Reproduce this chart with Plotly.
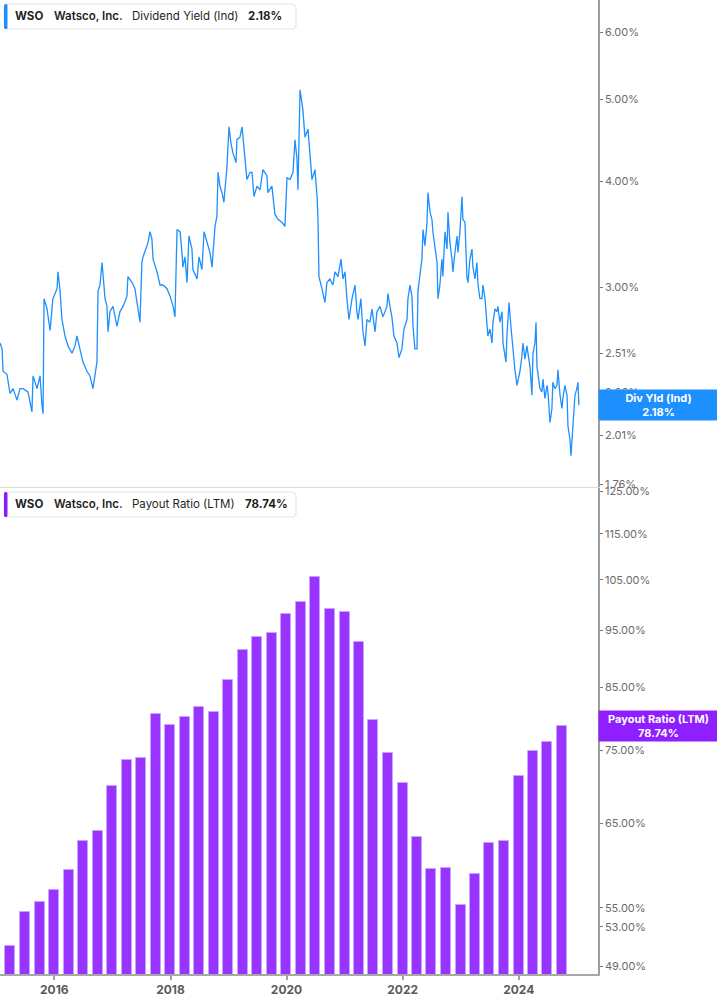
import plotly.graph_objects as go
import pandas as pd
import math

# ---------------- data ----------------
company = "Watsco, Inc."
ticker = "WSO"

# Dividend yield (indicated), %: observation day (days since 2015-01-24) and value
yield_origin = "2015-01-24"
yield_days = [
    0, 13, 19, 44, 63, 82, 107, 126, 145, 176, 201, 208, 233, 252, 264, 271, 277, 296, 315, 333,
    359, 365, 378, 390, 409, 428, 453, 472, 484, 503, 522, 547, 566, 585, 610, 617, 629, 642, 648, 661,
    673, 680, 692, 711, 736, 755, 774, 799, 805, 831, 849, 862, 881, 893, 900, 925, 931, 944, 956, 963,
    988, 1007, 1026, 1051, 1070, 1089, 1101, 1114, 1133, 1145, 1151, 1164, 1177, 1189, 1208, 1214, 1240, 1252, 1271, 1284,
    1302, 1321, 1334, 1340, 1353, 1365, 1372, 1384, 1397, 1409, 1428, 1441, 1453, 1466, 1485, 1491, 1510, 1523, 1542, 1554,
    1573, 1586, 1598, 1617, 1636, 1655, 1680, 1686, 1711, 1718, 1730, 1749, 1774, 1793, 1806, 1825, 1844, 1856, 1869, 1875,
    1881, 1888, 1906, 1919, 1938, 1951, 1963, 1982, 1995, 2001, 2007, 2026, 2045, 2057, 2076, 2095, 2108, 2127, 2146, 2158,
    2171, 2183, 2196, 2215, 2234, 2246, 2253, 2271, 2284, 2297, 2309, 2328, 2341, 2360, 2372, 2391, 2410, 2435, 2441, 2454,
    2466, 2479, 2498, 2511, 2529, 2542, 2561, 2567, 2580, 2592, 2599, 2611, 2624, 2630, 2643, 2655, 2662, 2674, 2687, 2693,
    2706, 2718, 2724, 2737, 2750, 2756, 2768, 2781, 2787, 2800, 2813, 2819, 2831, 2844, 2850, 2863, 2876, 2882, 2894, 2907,
    2913, 2926, 2938, 2945, 2957, 2970, 2976, 2989, 3001, 3008, 3020, 3033, 3039, 3052, 3064, 3070, 3083, 3096, 3102, 3115,
    3127, 3133, 3146, 3159, 3165, 3184, 3190, 3203, 3215, 3228, 3240, 3253, 3272, 3284, 3291, 3303, 3316, 3322, 3335, 3347,
    3354, 3366, 3373, 3379, 3391, 3398, 3410, 3417, 3429, 3442, 3448, 3461, 3473, 3479, 3492, 3505, 3511, 3524, 3536, 3542,
    3555, 3568, 3574, 3586, 3593, 3605, 3612, 3618, 3630, 3637, 3643,
]
div_yield = [
    2.58, 2.54, 2.39, 2.37, 2.25, 2.28, 2.21, 2.28, 2.28, 2.26, 2.14, 2.36, 2.28, 2.36, 2.18, 2.13, 2.91, 2.83, 2.67, 2.91,
    2.99, 3.13, 2.97, 2.75, 2.63, 2.56, 2.51, 2.56, 2.63, 2.54, 2.45, 2.39, 2.36, 2.28, 2.45, 2.97, 3.02, 3.21, 3.09, 2.91,
    2.85, 2.66, 2.81, 2.85, 2.70, 2.81, 2.85, 2.93, 3.09, 3.04, 2.99, 2.88, 2.73, 3.21, 3.26, 3.36, 3.39, 3.49, 3.42, 3.24,
    3.13, 3.02, 3.02, 2.99, 2.93, 2.85, 2.77, 3.51, 3.49, 3.30, 3.17, 3.26, 3.04, 3.45, 3.33, 3.15, 3.07, 3.26, 3.15, 3.49,
    3.39, 3.30, 3.17, 3.30, 3.54, 3.64, 4.10, 3.95, 3.88, 3.78, 4.16, 4.64, 4.44, 4.32, 4.21, 4.48, 4.51, 4.64, 4.28, 4.02,
    4.10, 4.10, 3.84, 3.95, 3.91, 4.13, 4.06, 3.88, 3.95, 3.81, 3.66, 3.61, 3.58, 3.54, 4.04, 4.02, 4.10, 4.48, 4.25, 3.91,
    4.64, 5.13, 4.86, 4.51, 4.61, 4.28, 4.02, 4.13, 3.84, 3.61, 3.09, 2.99, 2.88, 3.04, 3.07, 3.02, 3.13, 3.09, 3.24, 3.07,
    3.13, 2.91, 2.75, 2.91, 3.02, 2.81, 2.75, 2.91, 2.66, 2.56, 2.75, 2.73, 2.83, 2.66, 2.81, 2.85, 2.77, 2.85, 2.95, 2.85,
    2.77, 2.63, 2.58, 2.48, 2.54, 2.68, 2.75, 2.91, 3.02, 2.93, 2.70, 2.54, 2.54, 2.97, 3.09, 3.24, 3.51, 3.36, 3.58, 3.88,
    3.68, 3.61, 3.49, 3.36, 3.21, 2.91, 3.02, 3.24, 3.09, 3.49, 3.33, 3.68, 3.39, 3.24, 3.13, 3.30, 3.45, 3.30, 3.49, 3.84,
    3.61, 3.58, 3.09, 3.04, 3.24, 3.33, 3.17, 3.07, 3.21, 3.02, 2.91, 2.91, 3.02, 2.91, 2.70, 2.63, 2.68, 2.58, 2.73, 2.83,
    2.81, 2.85, 2.73, 2.81, 2.58, 2.45, 2.63, 2.88, 2.70, 2.51, 2.40, 2.30, 2.39, 2.49, 2.58, 2.47, 2.56, 2.51, 2.42, 2.24,
    2.51, 2.58, 2.73, 2.42, 2.32, 2.28, 2.26, 2.34, 2.22, 2.30, 2.26, 2.08, 2.16, 2.32, 2.28, 2.30, 2.40, 2.24, 2.16, 2.22,
    2.30, 2.24, 2.06, 1.99, 1.90, 2.04, 2.12, 2.24, 2.28, 2.32, 2.18,
]
yield_dates = pd.Timestamp(yield_origin) + pd.to_timedelta(yield_days, unit="D")

# Payout ratio (LTM), %, quarterly (quarter ends 2015Q1 .. 2024Q3)
payout_quarters = pd.date_range("2015-03-31", "2024-09-30", freq="QE")
payout_ratio = [
    51.0, 54.6, 55.7, 57.0, 59.3, 62.7, 64.0, 69.9, 73.6, 73.9,
    80.6, 78.8, 80.2, 81.8, 81.0, 86.2, 91.4, 93.8, 94.6, 98.2,
    100.6, 105.5, 99.1, 98.6, 92.9, 79.7, 74.6, 70.4, 63.3, 59.4,
    59.5, 55.3, 58.8, 62.5, 62.8, 71.4, 75.0, 76.3, 78.74,
]

yield_ticks = [1.76, 2.01, 2.26, 2.51, 3.00, 4.00, 5.00, 6.00]
payout_ticks = [49, 53, 55, 65, 75, 85, 95, 105, 115, 125]
year_ticks = [2016, 2018, 2020, 2022, 2024]

last_yield = div_yield[-1]
last_payout = payout_ratio[-1]

# ---------------- styling ----------------
W, H = 717, 1005
PLOT_W, PLOT_H = 598, 974
BLUE = "#1E8FFF"
PURPLE = "#9933FF"
PURPLE_BOX = "#8F1FFF"
TICK_GRAY = "#6b6b6b"
FONT = "Inter"

def px(x):
    return x / PLOT_W

def py(y):
    return (PLOT_H - y) / PLOT_H

def rounded_path(x0, y0, x1, y1, r):
    X = lambda v: f"{px(v):.5f}"
    Y = lambda v: f"{py(v):.5f}"
    return (f"M {X(x0+r)},{Y(y0)} L {X(x1-r)},{Y(y0)} Q {X(x1)},{Y(y0)} {X(x1)},{Y(y0+r)} "
            f"L {X(x1)},{Y(y1-r)} Q {X(x1)},{Y(y1)} {X(x1-r)},{Y(y1)} "
            f"L {X(x0+r)},{Y(y1)} Q {X(x0)},{Y(y1)} {X(x0)},{Y(y1-r)} "
            f"L {X(x0)},{Y(y0+r)} Q {X(x0)},{Y(y0)} {X(x0+r)},{Y(y0)} Z")

fig = go.Figure()

fig.add_trace(go.Scatter(
    x=yield_dates, y=div_yield, mode="lines",
    line=dict(color=BLUE, width=1.3),
    xaxis="x", yaxis="y", showlegend=False, hoverinfo="skip",
))

fig.add_trace(go.Bar(
    x=payout_quarters, y=payout_ratio,
    marker=dict(color=PURPLE, line=dict(color="#c9a3ff", width=1)),
    width=63 * 86400000,
    xaxis="x2", yaxis="y2", showlegend=False, hoverinfo="skip",
))

x_range = ["2015-01-24", "2025-05-14"]

fig.update_layout(
    width=W, height=H,
    margin=dict(l=0, r=W - PLOT_W, t=0, b=H - PLOT_H, autoexpand=False),
    paper_bgcolor="white", plot_bgcolor="white",
    font=dict(family=FONT, color="#222"),
    bargap=0,
    xaxis=dict(
        domain=[0, 1], anchor="y", range=x_range, matches="x2", automargin=False,
        showticklabels=False, ticks="", showgrid=False, zeroline=False,
        showline=True, linecolor="#d9d9d9", linewidth=1,
    ),
    yaxis=dict(
        domain=[0.4995, 1], anchor="x", side="right", type="log", automargin=False,
        range=[0.2414, 0.8159],
        tickvals=yield_ticks, ticktext=[f"{v:.2f}%" for v in yield_ticks],
        tickfont=dict(family=FONT, size=11, color=TICK_GRAY),
        ticks="outside", ticklen=3, tickcolor="#777", tickwidth=1,
        showgrid=False, zeroline=False,
        showline=True, linecolor="#9e9e9e", linewidth=1.5,
    ),
    xaxis2=dict(
        domain=[0, 1], anchor="y2", range=x_range, automargin=False,
        tickvals=[f"{y}-01-01" for y in year_ticks], ticktext=[str(y) for y in year_ticks],
        tickfont=dict(family=FONT, size=12, color="#5a5a5a", weight=700),
        ticks="outside", ticklen=4, tickcolor="#a0a0a0", tickwidth=1.5,
        showgrid=False, zeroline=False,
        showline=True, linecolor="#a8a8a8", linewidth=1.5,
    ),
    yaxis2=dict(
        domain=[0, 0.499], anchor="x2", side="right", type="log", automargin=False,
        range=[1.6838, 2.0998],
        tickvals=payout_ticks, ticktext=[f"{v:.2f}%" for v in payout_ticks],
        tickfont=dict(family=FONT, size=11, color=TICK_GRAY),
        ticks="outside", ticklen=3, tickcolor="#777", tickwidth=1,
        showgrid=False, zeroline=False,
        showline=True, linecolor="#9e9e9e", linewidth=1.5,
    ),
)

shapes = []
annotations = []

def legend_box(y0, y1, color, parts):
    shapes.append(dict(type="path", xref="paper", yref="paper",
                       path=rounded_path(4, y0, 296, y1, 4),
                       line=dict(color="#e3e3e3", width=1), fillcolor="white", layer="above"))
    shapes.append(dict(type="path", xref="paper", yref="paper",
                       path=rounded_path(4, y0, 7.5, y1, 1.5),
                       line=dict(width=0), fillcolor=color, layer="above"))
    yc = (y0 + y1) / 2
    for x, text, weight in parts:
        annotations.append(dict(xref="paper", yref="paper", x=px(x), y=py(yc),
                                xanchor="left", yanchor="middle", showarrow=False,
                                text=text, font=dict(family=FONT, size=11.5, color="#1f1f1f", weight=weight)))

legend_box(4, 29, BLUE, [
    (13, ticker, 700), (52, company, 600), (130, "Dividend Yield (Ind)", 400), (246, f"{last_yield:.2f}%", 700),
])
legend_box(492, 517, "#8A1CF5", [
    (13, ticker, 700), (52, company, 600), (130, "Payout Ratio (LTM)", 400), (243, f"{last_payout:.2f}%", 700),
])

annotations.append(dict(
    xref="paper", yref="y", x=1, y=math.log10(last_yield), xanchor="left", yanchor="middle",
    showarrow=False, text=f"<b>Div Yld (Ind)</b><br><b>{last_yield:.2f}%</b>",
    bgcolor=BLUE, width=119, height=30, borderpad=0, align="center",
    font=dict(family=FONT, size=11, color="white"),
))
annotations.append(dict(
    xref="paper", yref="y2", x=1, y=math.log10(last_payout), xanchor="left", yanchor="middle",
    showarrow=False, text=f"<b>Payout Ratio (LTM)</b><br><b>{last_payout:.2f}%</b>",
    bgcolor=PURPLE_BOX, width=119, height=30, borderpad=0, align="center",
    font=dict(family=FONT, size=11, color="white"),
))

fig.update_layout(shapes=shapes, annotations=annotations)

fig.write_html("out.html", config={"displayModeBar": False},
               post_script="document.body.style.margin='0';document.body.style.overflow='hidden';")
